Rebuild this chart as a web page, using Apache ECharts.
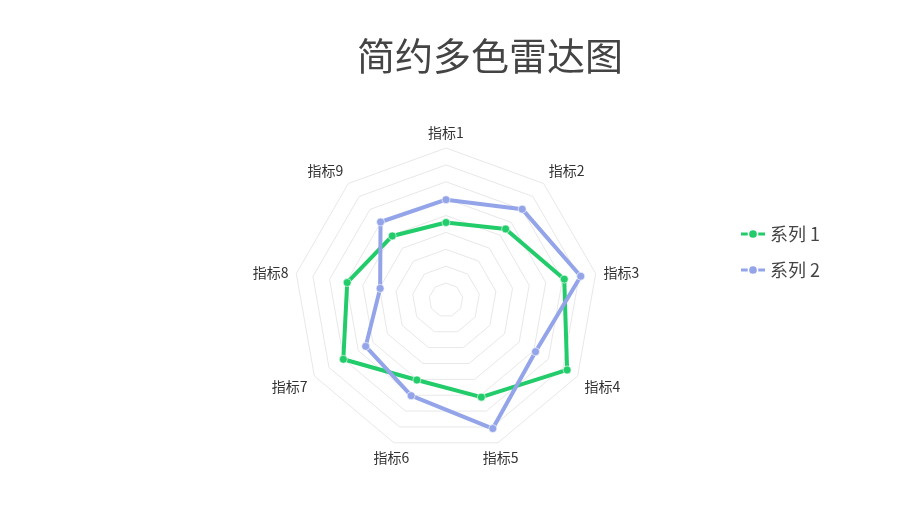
<!DOCTYPE html>
<html>
<head>
<meta charset="utf-8">
<script src="https://cdn.jsdelivr.net/npm/echarts@6/dist/echarts.min.js"></script>
<style>html,body{margin:0;padding:0;background:#fff;}#main{width:900px;height:506px;}</style>
</head>
<body>
<div id="main"></div>
<script>
const indicatorNames = ['指标1','指标2','指标3','指标4','指标5','指标6','指标7','指标8','指标9'];
const seriesNames = ['系列 1','系列 2'];
const series1Values = [51, 61, 79, 92, 68, 56, 78, 66, 55];
const series2Values = [66, 78, 90, 68, 90, 67, 61, 44, 67];
const indicatorMax = 100;
const colors = ['#22cc6a', '#93a4e9'];

// ECharts radar runs counter-clockwise; reorder so the indicators go clockwise
function cw(arr) { return [arr[0]].concat(arr.slice(1).reverse()); }

// name alignment by direction (clockwise from top)
function nameStyle(i, n) {
  const a = i * 2 * Math.PI / n;
  const c = Math.cos(a), s = Math.sin(a);
  const st = {};
  if (c > 0.4) st.verticalAlign = 'bottom';
  else if (c < -0.4) st.verticalAlign = 'top';
  if (Math.abs(s) < 0.5) st.align = 'center';
  return st;
}

const indicators = indicatorNames.map((n, i) => ({
  name: n, min: 0, max: indicatorMax,
  nameTextStyle: nameStyle(i, indicatorNames.length)
}));

const legendIcon = 'path://M0,2.5h7v3h-7z M8.5,4a4,4 0 1,0 8,0a4,4 0 1,0 -8,0z M18,2.5h7v3h-7z';

const chart = echarts.init(document.getElementById('main'));
chart.setOption({
  backgroundColor: '#fff',
  color: colors,
  title: {
    text: '简约多色雷达图',
    left: 352,
    top: 32,
    textStyle: { fontSize: 38, fontWeight: 'normal', color: '#444', fontFamily: 'Noto Sans CJK SC' }
  },
  legend: {
    orient: 'vertical',
    left: 736,
    top: 220,
    itemGap: 18,
    itemWidth: 24,
    itemHeight: 8,
    icon: legendIcon,
    itemStyle: { borderWidth: 0 },
    textStyle: { fontSize: 18, color: '#444', fontFamily: 'Noto Sans CJK SC' },
    data: seriesNames
  },
  radar: {
    center: [446, 300],
    radius: 152,
    startAngle: 90,
    splitNumber: 9,
    nameGap: 8,
    axisName: { color: '#333', fontSize: 14, fontFamily: 'Noto Sans CJK SC' },
    axisLine: { show: false },
    splitArea: { show: false },
    splitLine: { lineStyle: { color: '#e8e8e8', width: 1 } },
    indicator: cw(indicators)
  },
  series: [{
    type: 'radar',
    symbol: 'circle',
    symbolSize: 8,
    lineStyle: { width: 4 },
    itemStyle: { borderColor: 'rgba(255,255,255,0.6)', borderWidth: 1 },
    data: [
      { name: seriesNames[0], value: cw(series1Values), itemStyle: { color: colors[0] }, lineStyle: { color: colors[0], width: 4 } },
      { name: seriesNames[1], value: cw(series2Values), itemStyle: { color: colors[1] }, lineStyle: { color: colors[1], width: 4 } }
    ]
  }]
});
</script>
</body>
</html>
